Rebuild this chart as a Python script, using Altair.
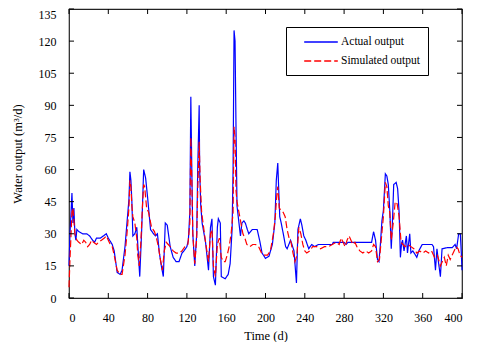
import altair as alt
import pandas as pd

# ---- data ----
actual_days = [0, 1, 3, 4, 5, 6, 7, 8, 10, 14, 18, 21, 24, 26, 28, 32, 35, 38, 40, 44, 46, 49, 52, 54, 57, 59,
               61, 62, 63, 64, 65, 67, 69, 70, 72, 74, 76, 77, 78, 80, 83, 86, 88, 90, 92, 94, 96, 98, 100,
               103, 106, 109, 112, 115, 117, 120, 121.5, 123, 124, 125, 126, 128, 130, 131, 132.5, 133, 134,
               135.5, 139, 142, 144, 145.5, 147, 149, 151, 152, 154, 155, 159, 162, 164, 166, 167, 168, 169,
               170, 171, 173, 174.5, 176, 178, 179.5, 181.5, 183, 186.5, 191.5, 194, 196.5, 200, 203.5, 207,
               209.5, 211, 212.5, 213.5, 214.5, 216, 218.5, 220.5, 222, 225.5, 229, 231.5, 233, 235.5, 237,
               239, 241, 244, 247, 250, 254, 268, 269, 280, 282, 284, 308, 310, 312, 314, 315.5, 317, 318.5,
               320, 322, 323.5, 325, 326.5, 328, 329, 330.5, 333, 334.5, 336, 337.3, 338.5, 339.5, 341,
               343.4, 344.5, 346.8, 348, 350, 354, 356, 359.5, 369.5, 371, 373, 374.5, 376, 378, 379.7, 385,
               390, 393, 394.5, 396.6, 398.3, 399.3, 400]
actual_vals = [15, 30, 49, 35, 42, 30, 27, 32, 31, 30, 30, 29, 27, 26, 28, 28, 29, 30, 28, 25, 22, 12, 11, 13, 24, 35,
               46, 59, 55, 45, 29, 30, 33, 25, 10, 32, 60, 58, 56, 47, 32, 30, 29, 30, 21, 15, 10, 35, 34,
               24, 19, 17, 17, 21, 22, 24, 27, 40, 94, 60, 30, 15, 30, 60, 90, 60, 44,
               35, 26, 13, 33, 37, 10, 6, 33, 37, 35, 10, 9, 11, 16, 32, 60, 125, 120,
               79, 43, 35, 29, 35, 36, 35, 32, 30, 32, 32, 27, 21, 18.5, 19.5, 25,
               35, 55, 63, 50, 38, 35, 29, 24, 23, 27, 22, 7, 32, 37, 34,
               29, 27, 23, 25, 24, 25, 25, 26, 26, 25, 26, 26, 31, 27, 18, 17, 25.5, 36,
               41, 58, 57, 53, 41, 23, 33, 53, 54, 51, 40, 19, 25.5, 27, 22,
               29, 21, 30, 21, 22, 19, 22, 25, 25, 24, 13, 23, 17, 10, 23, 23.5,
               23.5, 25, 23, 30, 30, 21, 13]

sim_days = [0, 1, 3, 4, 5, 6, 8, 10, 13, 15, 17, 19, 21, 23, 25, 28, 30, 33, 36, 38, 40, 42, 44, 46, 49, 52, 54,
            57, 59, 61, 62, 63, 64, 65, 67, 69, 70, 71.5, 73, 75, 76, 77, 79, 81, 84, 87, 89, 91, 93, 95, 97,
            99, 101, 103, 106, 109, 112, 115, 118, 121, 123, 124, 125, 126, 128, 130, 131, 132.5, 133.5, 135,
            137, 139, 142, 144, 145.5, 147, 149, 151, 153, 155, 157, 159, 161, 163, 165, 167, 168, 169, 170,
            171, 173, 175, 177, 179, 181, 184, 187, 190, 193, 196, 199, 202, 205, 208, 210, 211.5, 212.5,
            214, 216, 218, 220, 222, 224, 226, 228, 230, 232, 234, 236, 238, 240, 242, 245, 248, 252, 256,
            260, 264, 268, 272, 275, 277, 279, 281, 283, 285, 287, 289, 291, 293, 296, 299, 302, 305, 308,
            310, 312, 314, 316, 318, 320, 322, 323.5, 325, 326.5, 328, 330, 332, 334, 336, 338, 340, 342,
            345, 348, 351, 354, 357, 360, 363, 366, 369, 372, 375, 378, 380, 382, 384, 386, 388, 391, 394,
            396, 398, 400]
sim_vals = [5, 18, 40, 42, 36, 30, 27, 26, 25, 27, 26, 24, 25, 27, 26, 25, 26, 27, 28, 29, 27, 25, 24, 20, 13, 11, 11,
            20, 30, 42, 55, 52, 43, 38, 35, 28, 20, 15, 25, 45, 53, 52, 42, 40, 33, 31, 28, 24, 18, 13, 22,
            26, 25, 24, 22, 21, 21, 22, 24, 25, 35, 75, 55, 30, 16, 28, 50, 73, 55, 40,
            33, 26, 17, 30, 32, 15, 10, 25, 28, 19, 17, 17, 20, 24, 30, 40, 80, 75, 50,
            45, 40, 35, 30, 28, 25, 24, 25, 25, 24, 21, 20, 20, 22, 30, 38, 48, 52,
            42, 41, 40, 38, 32, 28, 26, 21, 17, 20, 33, 30, 25, 22, 21, 22, 24, 24, 23,
            24, 24, 25, 26, 25, 28, 26, 24, 27, 29, 27, 25, 26, 24, 22, 21, 22, 21, 22,
            25, 24, 17, 18, 28, 38, 54, 52, 43, 40, 27, 35, 45, 44, 38, 26, 25, 24,
            25, 24, 23, 21, 22, 21, 22, 21, 22, 19, 20, 15, 17, 19, 15, 20, 18, 21, 24,
            23, 20, 19]

series_names = ["Actual output", "Simulated output"]
series_colors = ["#0000FF", "#FF0000"]
x_ticks = list(range(0, 401, 40))
y_ticks = list(range(0, 136, 15))

df = pd.concat([
    pd.DataFrame({"day": actual_days, "val": actual_vals, "series": series_names[0]}),
    pd.DataFrame({"day": sim_days, "val": sim_vals, "series": series_names[1]}),
], ignore_index=True)

W, H = 393, 289
FONT = "Liberation Serif"

xs = alt.Scale(domain=[0, 400], nice=False, zero=False)
ys = alt.Scale(domain=[0, 135], nice=False)
x_axis = alt.Axis(values=x_ticks, title="Time (d)", ticks=False, grid=False, domain=False,
                  labelPadding=14, labelFlush=True, titlePadding=6)
y_axis = alt.Axis(values=y_ticks, title="Water output (m³/d)", ticks=False, grid=False, domain=False,
                  labelPadding=13, titlePadding=14,
                  labelBaseline={"condition": {"test": "datum.value == 135", "value": "top"},
                                 "value": "middle"})

lines = alt.Chart(df).mark_line(strokeWidth=1.2).encode(
    x=alt.X("day:Q", scale=xs, axis=x_axis),
    y=alt.Y("val:Q", scale=ys, axis=y_axis),
    color=alt.Color("series:N", scale=alt.Scale(domain=series_names, range=series_colors),
                    legend=alt.Legend(title=None)),
    strokeDash=alt.StrokeDash("series:N", scale=alt.Scale(domain=series_names, range=[[1, 0], [7, 3]]),
                              legend=alt.Legend(title=None)),
)

xt = pd.DataFrame({"t": x_ticks})
yt = pd.DataFrame({"t": y_ticks})
tick_len = 5
bottom_ticks = alt.Chart(xt).mark_rule(color="black").encode(
    x=alt.X("t:Q", scale=xs, axis=x_axis), y=alt.value(H), y2=alt.value(H - tick_len))
top_ticks = alt.Chart(xt).mark_rule(color="black").encode(
    x=alt.X("t:Q", scale=xs, axis=x_axis), y=alt.value(0), y2=alt.value(tick_len))
left_ticks = alt.Chart(yt).mark_rule(color="black").encode(
    y=alt.Y("t:Q", scale=ys, axis=y_axis), x=alt.value(0), x2=alt.value(tick_len))
right_ticks = alt.Chart(yt).mark_rule(color="black").encode(
    y=alt.Y("t:Q", scale=ys, axis=y_axis), x=alt.value(W - tick_len), x2=alt.value(W))

chart = alt.layer(lines, bottom_ticks, top_ticks, left_ticks, right_ticks).properties(
    width=W, height=H, autosize="none",
    padding={"left": 61, "top": 1, "right": 10, "bottom": 44},
).configure_view(stroke="#222222", strokeWidth=1.2).configure_axis(
    labelFont=FONT, titleFont=FONT, labelFontSize=12, titleFontSize=12.5, labelColor="black",
    titleColor="black", titleFontWeight="normal",
).configure_legend(
    orient="none", legendX=217, legendY=18, strokeColor="black", fillColor="white",
    padding=8, labelFont=FONT, labelFontSize=11.5, labelColor="black",
    symbolType="M-2.8,0H2.8", symbolSize=144, symbolStrokeWidth=1.4, symbolOffset=20,
    labelOffset=13, rowPadding=6,
)

chart.save("out.html", embed_options={"renderer": "svg", "actions": False})
